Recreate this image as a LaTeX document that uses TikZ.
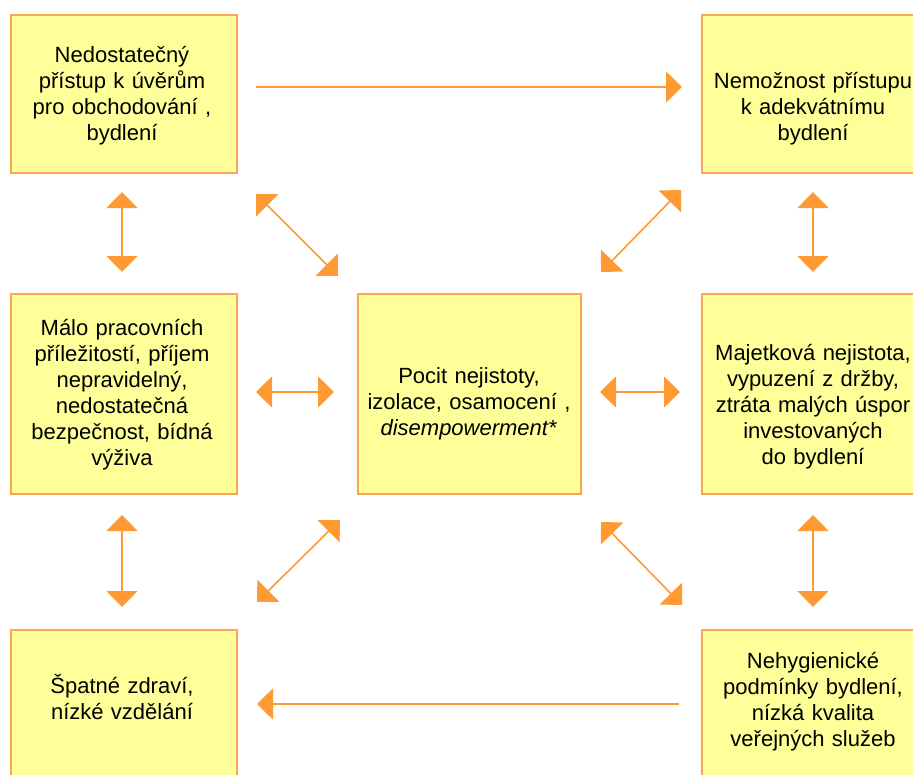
\documentclass[tikz,border=0pt]{standalone}
\usepackage{fontspec}
\setmainfont{Liberation Sans}
\usetikzlibrary{arrows.meta}
\definecolor{boxfill}{HTML}{FFFF99}
\definecolor{boxline}{HTML}{FFA54F}
\definecolor{arr}{HTML}{FF9933}
\begin{document}
\begin{tikzpicture}[x=1pt,y=-1pt,
  box/.style={draw=boxline, line width=2pt, fill=boxfill, anchor=north west, inner sep=0pt},
  txt/.style={text width=224pt, align=center, anchor=base, inner sep=0pt, font=\fontsize{22}{26}\selectfont},
  link/.style={draw=arr, line width=1.6pt},
  tip/.tip={Triangle[length=16pt,width=31pt]},
  both/.style={link, {tip}-{tip}},
  one/.style={link, -{tip}}]
\useasboundingbox (0,0) rectangle (913,774);
\clip (0,0) rectangle (913,774);
% boxes
\node[box, minimum width=226pt, minimum height=158pt] (tl) at (10,14) {};
\node[box, minimum width=226pt, minimum height=158pt] (tr) at (701,14) {};
\node[box, minimum width=226pt, minimum height=200pt] (ml) at (10,293) {};
\node[box, minimum width=223pt, minimum height=200pt] (c) at (357,293) {};
\node[box, minimum width=226pt, minimum height=200pt] (mr) at (701,293) {};
\node[box, minimum width=226pt, minimum height=170pt] (bl) at (10,629) {};
\node[box, minimum width=226pt, minimum height=170pt] (br) at (701,629) {};
% texts
\node[txt] (tlt) at (122,62) {Nedostatečný\\přístup k úvěrům\\pro obchodování ,\\bydlení};
\node[txt] (trt) at (813,88) {Nemožnost přístupu\\k adekvátnímu\\bydlení};
\node[txt] (mlt) at (122,335) {Málo pracovních\\příležitostí, příjem\\nepravidelný,\\nedostatečná\\bezpečnost, bídná\\výživa};
\node[txt] (ct) at (469,383) {Pocit nejistoty,\\izolace, osamocení ,\\\textit{disempowerment}*};
\node[txt] (mrt) at (813,360) {Majetková nejistota,\\vypuzení z držby,\\ztráta malých úspor\\investovaných\\do bydlení};
\node[txt] (blt) at (122,693) {Špatné zdraví,\\nízké vzdělání};
\node[txt] (brt) at (813,668) {Nehygienické\\podmínky bydlení,\\nízká kvalita\\veřejných služeb};
% arrow end points
\coordinate (h1a) at (256,87);  \coordinate (h1b) at (682,87);
\coordinate (h2a) at (679,704); \coordinate (h2b) at (257,704);
\coordinate (v1a) at (122,192); \coordinate (v1b) at (122,272);
\coordinate (v2a) at (813,192); \coordinate (v2b) at (813,272);
\coordinate (v3a) at (122,515); \coordinate (v3b) at (122,607);
\coordinate (v4a) at (813,515); \coordinate (v4b) at (813,607);
\coordinate (m1a) at (256,392); \coordinate (m1b) at (334,392);
\coordinate (m2a) at (600,392); \coordinate (m2b) at (680,392);
\coordinate (d1a) at (256,194); \coordinate (d1b) at (338,276);
\coordinate (d2a) at (681,190); \coordinate (d2b) at (601,272);
\coordinate (d3a) at (257,602); \coordinate (d3b) at (340,520);
\coordinate (d4a) at (601,522); \coordinate (d4b) at (682,605);
% arrows
\draw[one] (h1a) -- (h1b);
\draw[one] (h2a) -- (h2b);
\draw[both] (v1a) -- (v1b);
\draw[both] (v2a) -- (v2b);
\draw[both] (v3a) -- (v3b);
\draw[both] (v4a) -- (v4b);
\draw[both] (m1a) -- (m1b);
\draw[both] (m2a) -- (m2b);
\draw[both] (d1a) -- (d1b);
\draw[both] (d2a) -- (d2b);
\draw[both] (d3a) -- (d3b);
\draw[both] (d4a) -- (d4b);
\end{tikzpicture}
\end{document}
